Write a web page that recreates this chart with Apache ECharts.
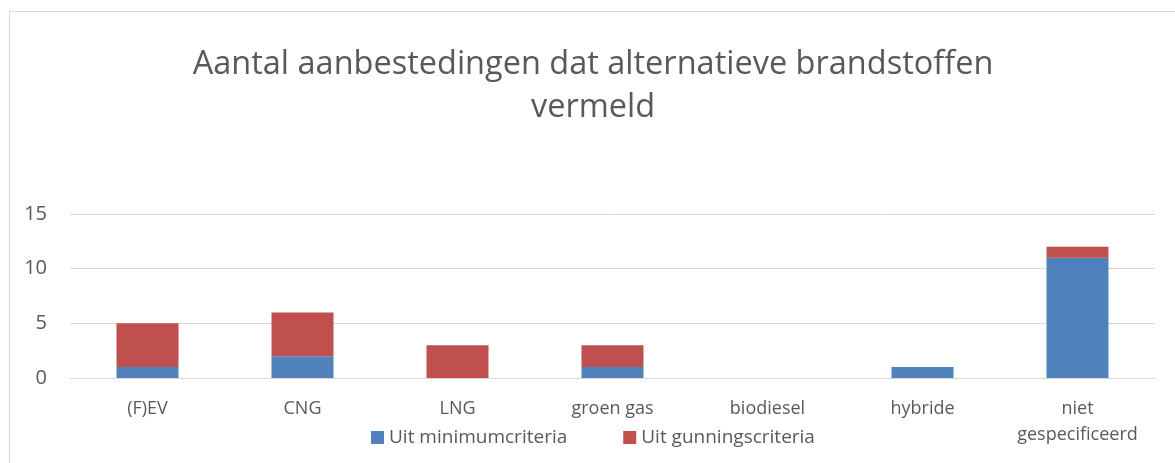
<!DOCTYPE html>
<html>
<head>
<meta charset="utf-8">
<script src="https://cdn.jsdelivr.net/npm/echarts@6/dist/echarts.min.js"></script>
<style>
    html, body { margin: 0; padding: 0; background: #fff; }
    #chart { width: 1175px; height: 463px; }
</style>
</head>
<body>
<div id="chart"></div>
<script>
const categories = ["(F)EV", "CNG", "LNG", "groen gas", "biodiesel", "hybride", "niet\ngespecificeerd"];
const minimumValues = [1, 2, 0, 1, 0, 1, 11];
const gunningValues = [4, 4, 3, 2, 0, 0, 1];
const yTicks = [0, 5, 10, 15];

const font = "'Open Sans', 'Noto Sans', sans-serif";
const textColor = "#595959";

const ecIns = echarts.init(document.getElementById("chart"));
ecIns.setOption({
    animation: false,
    backgroundColor: "#fff",
    textStyle: { fontFamily: font },
    graphic: [
        {
            // chart border
            type: "rect",
            shape: { x: 9.5, y: 11.5, width: 1200, height: 500 },
            style: { fill: "none", stroke: "#d9d9d9", lineWidth: 1 },
            silent: true
        }
    ],
    title: {
        text: "Aantal aanbestedingen dat alternatieve brandstoffen\nvermeld",
        left: 588,
        textAlign: "center",
        top: 38,
        textStyle: {
            fontFamily: font,
            fontSize: 32.5,
            fontWeight: "normal",
            color: textColor,
            lineHeight: 43
        }
    },
    legend: {
        left: 366,
        top: 423,
        itemWidth: 13,
        itemHeight: 13,
        itemGap: 56,
        icon: "rect",
        textStyle: { fontFamily: font, fontSize: 19, color: textColor },
        data: ["Uit minimumcriteria", "Uit gunningscriteria"]
    },
    grid: { left: 70, right: 20, top: 214, bottom: 85, containLabel: false },
    xAxis: {
        type: "category",
        data: categories,
        axisLine: { show: true, lineStyle: { color: "#d9d9d9" } },
        axisTick: { show: false },
        axisLabel: {
            color: textColor,
            fontFamily: font,
            fontSize: 18,
            lineHeight: 26,
            margin: 18,
            interval: 0
        }
    },
    yAxis: {
        type: "value",
        min: yTicks[0],
        max: yTicks[yTicks.length - 1],
        interval: 5,
        axisLine: { show: false },
        axisTick: { show: false },
        axisLabel: { color: textColor, fontFamily: font, fontSize: 20, margin: 23 },
        splitLine: { lineStyle: { color: "#d9d9d9", width: 1 } }
    },
    series: [
        {
            name: "Uit minimumcriteria",
            type: "bar",
            stack: "total",
            data: minimumValues,
            barWidth: "40%",
            itemStyle: { color: "#4F81BD" }
        },
        {
            name: "Uit gunningscriteria",
            type: "bar",
            stack: "total",
            data: gunningValues,
            barWidth: "40%",
            itemStyle: { color: "#C0504D" }
        }
    ]
});
</script>
</body>
</html>
